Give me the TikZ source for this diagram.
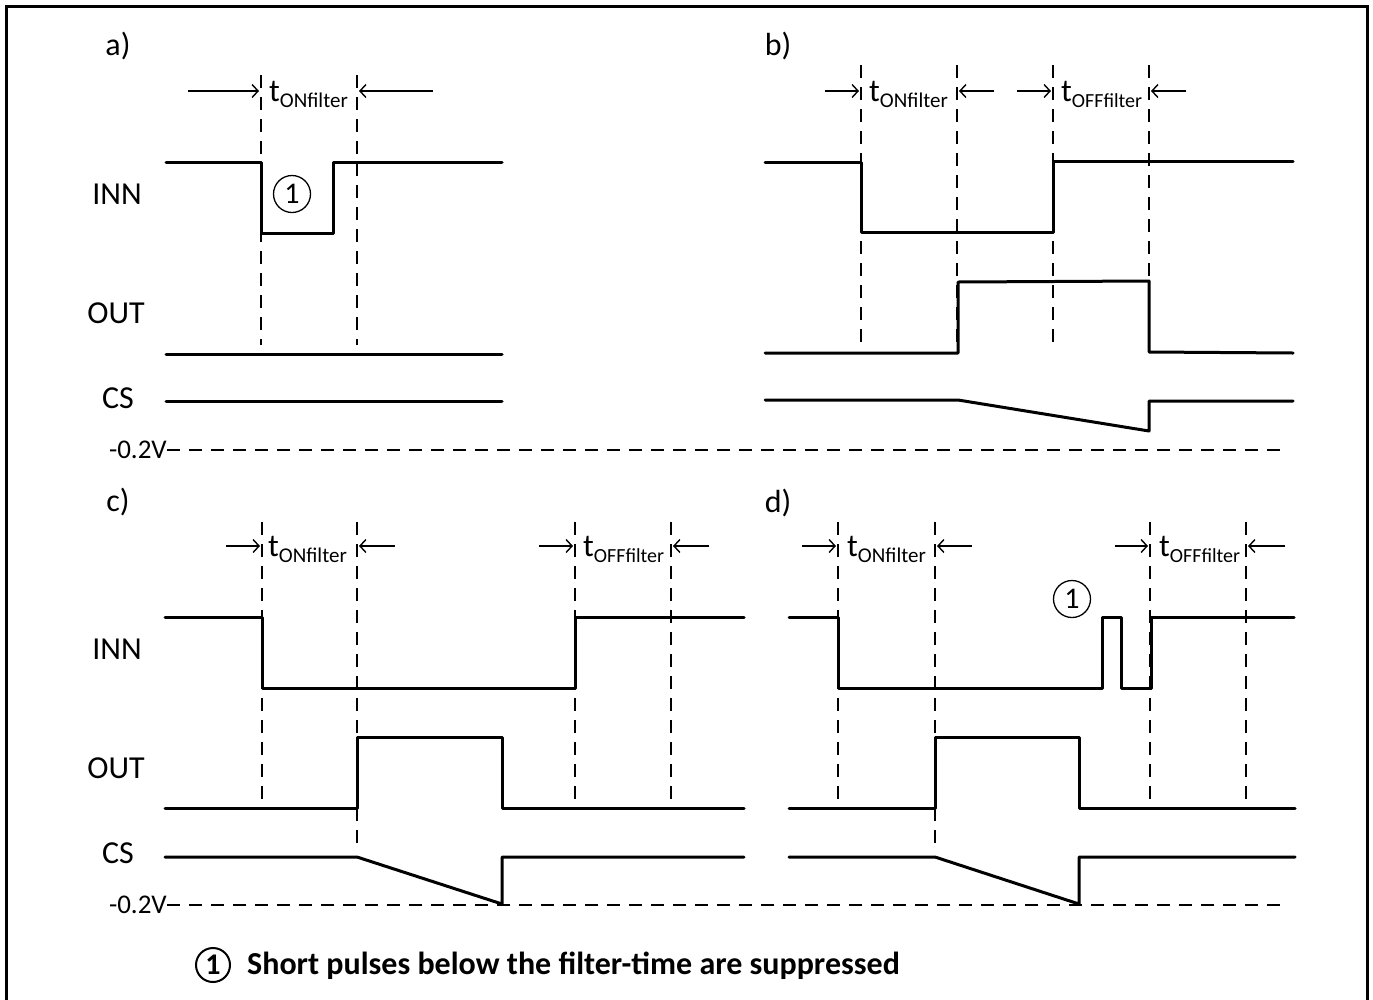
\documentclass[tikz,border=0pt]{standalone}
\usepackage{fontspec}
\setmainfont{Carlito}
\usetikzlibrary{arrows.meta}
\newcommand\TONlabel{t{\fontsize{21}{21}\selectfont\raisebox{-6pt}{ONfilter}}}
\newcommand\TOFFlabel{t{\fontsize{20}{20}\selectfont\raisebox{-6pt}{OFFfilter}}}
\begin{document}
\begin{tikzpicture}[x=1pt,y=-1pt,
  sig/.style={line width=3pt,line cap=round,line join=round},
  guide/.style={line width=1.6pt,dash pattern=on 13pt off 9pt},
  dimarrow/.style={line width=1.4pt,-{Straight Barb[length=6pt,width=13pt,line width=1.4pt]}},
  lbl/.style={font=\fontsize{32}{32}\selectfont,inner sep=0pt},
  vlbl/.style={font=\fontsize{27}{27}\selectfont,inner sep=0pt,anchor=east},
  tlbl/.style={font=\fontsize{32}{32}\selectfont,inner sep=0pt,anchor=base west},
  numc/.style={circle,draw,line width=1.3pt,minimum size=37pt,inner sep=0pt,font=\fontsize{30}{30}\selectfont}]
\useasboundingbox (0,0) rectangle (1373,999);
\draw[line width=3pt] (6,6) rectangle (1367,1010);

% ---------- panel labels
\node[lbl] (la) at (118,46) {a)};
\node[lbl] (lb) at (778,46) {b)};
\node[lbl] (lc) at (118,502) {c)};
\node[lbl] (ld) at (778,503) {d)};

% ---------- signal names
\foreach \yo/\s in {0/t,455/b}{
  \node[lbl] (inn\s) at (117,194+\yo) {INN};
  \node[lbl] (out\s) at (116,313+\yo) {OUT};
  \node[lbl] (cs\s)  at (118,398+\yo) {CS};
}
\node[vlbl] (vt) at (167,450) {-0.2V};
\node[vlbl] (vb) at (167,905) {-0.2V};
\draw[guide] (vt.east) -- (1288,450);
\draw[guide] (vb.east) -- (1288,905);

% ---------- panel a
\foreach \x in {261,357} \draw[guide] (\x,75) -- (\x,345);
\draw[dimarrow] (188,91) -- (259,91);
\draw[dimarrow] (433,91) -- (359,91);
\node[tlbl] (ta) at (269,101) {\TONlabel};
\draw[sig] (166,162) -- (261,162) -- (261,233) -- (333,233) -- (333,162) -- (502,162);
\draw[sig] (166,354) -- (502,354);
\draw[sig] (166,401) -- (502,401);
\node[numc] (na) at (292,194) {1};

% ---------- panel b
\foreach \x in {861,957,1053,1149} \draw[guide] (\x,65) -- (\x,345);
\draw[dimarrow] (825,91) -- (859,91);
\draw[dimarrow] (994,91) -- (959,91);
\draw[dimarrow] (1017,91) -- (1051,91);
\draw[dimarrow] (1186,91) -- (1151,91);
\node[tlbl] (tb1) at (869,101) {\TONlabel};
\node[tlbl] (tb2) at (1061,101) {\TOFFlabel};
\draw[sig] (765,162) -- (861,162) -- (861,232) -- (1053,232) -- (1053,161) -- (1293,161);
\draw[sig] (765,353) -- (958,353) -- (958,282) -- (1149,281) -- (1149,352) -- (1293,353);
\draw[sig] (765,400) -- (958,400) -- (1149,431) -- (1149,401) -- (1293,401);

% ---------- panel c
\foreach \x in {262,575,671} \draw[guide] (\x,522) -- (\x,802);
\draw[guide] (357,522) -- (357,848);
\draw[dimarrow] (226,546) -- (260,546);
\draw[dimarrow] (395,546) -- (359,546);
\draw[dimarrow] (539,546) -- (573,546);
\draw[dimarrow] (709,546) -- (673,546);
\node[tlbl] (tc1) at (268,556) {\TONlabel};
\node[tlbl] (tc2) at (583,556) {\TOFFlabel};
\draw[sig] (165,617) -- (262,617) -- (262,688) -- (575,688) -- (575,617) -- (744,617);
\draw[sig] (165,808) -- (357,808) -- (357,737) -- (502,737) -- (502,808) -- (744,808);
\draw[sig] (165,857) -- (357,857) -- (502,904) -- (502,857) -- (744,857);

% ---------- panel d
\foreach \x in {838,1150,1246} \draw[guide] (\x,522) -- (\x,802);
\draw[guide] (935,522) -- (935,848);
\draw[dimarrow] (802,546) -- (836,546);
\draw[dimarrow] (972,546) -- (937,546);
\draw[dimarrow] (1115,546) -- (1148,546);
\draw[dimarrow] (1285,546) -- (1248,546);
\node[tlbl] (td1) at (847,556) {\TONlabel};
\node[tlbl] (td2) at (1159,556) {\TOFFlabel};
\draw[sig] (789,617) -- (838,617) -- (838,688) -- (1102,688) -- (1102,617) -- (1121,617) -- (1121,688) -- (1151,688) -- (1151,617) -- (1294,617);
\draw[sig] (789,808) -- (935,808) -- (935,737) -- (1079,737) -- (1079,808) -- (1295,808);
\draw[sig] (789,857) -- (935,857) -- (1079,904) -- (1079,857) -- (1295,857);
\node[numc] (nd) at (1072,599) {1};

% ---------- legend
\node[numc,line width=2pt,minimum size=34pt,font=\fontsize{30}{30}\selectfont\bfseries] (nl) at (213,965) {1};
\node[font=\fontsize{32}{32}\selectfont\bfseries,anchor=west,inner sep=0pt] (leg) at (247,966) {Short pulses below the filter-time are suppressed};
\end{tikzpicture}
\end{document}
